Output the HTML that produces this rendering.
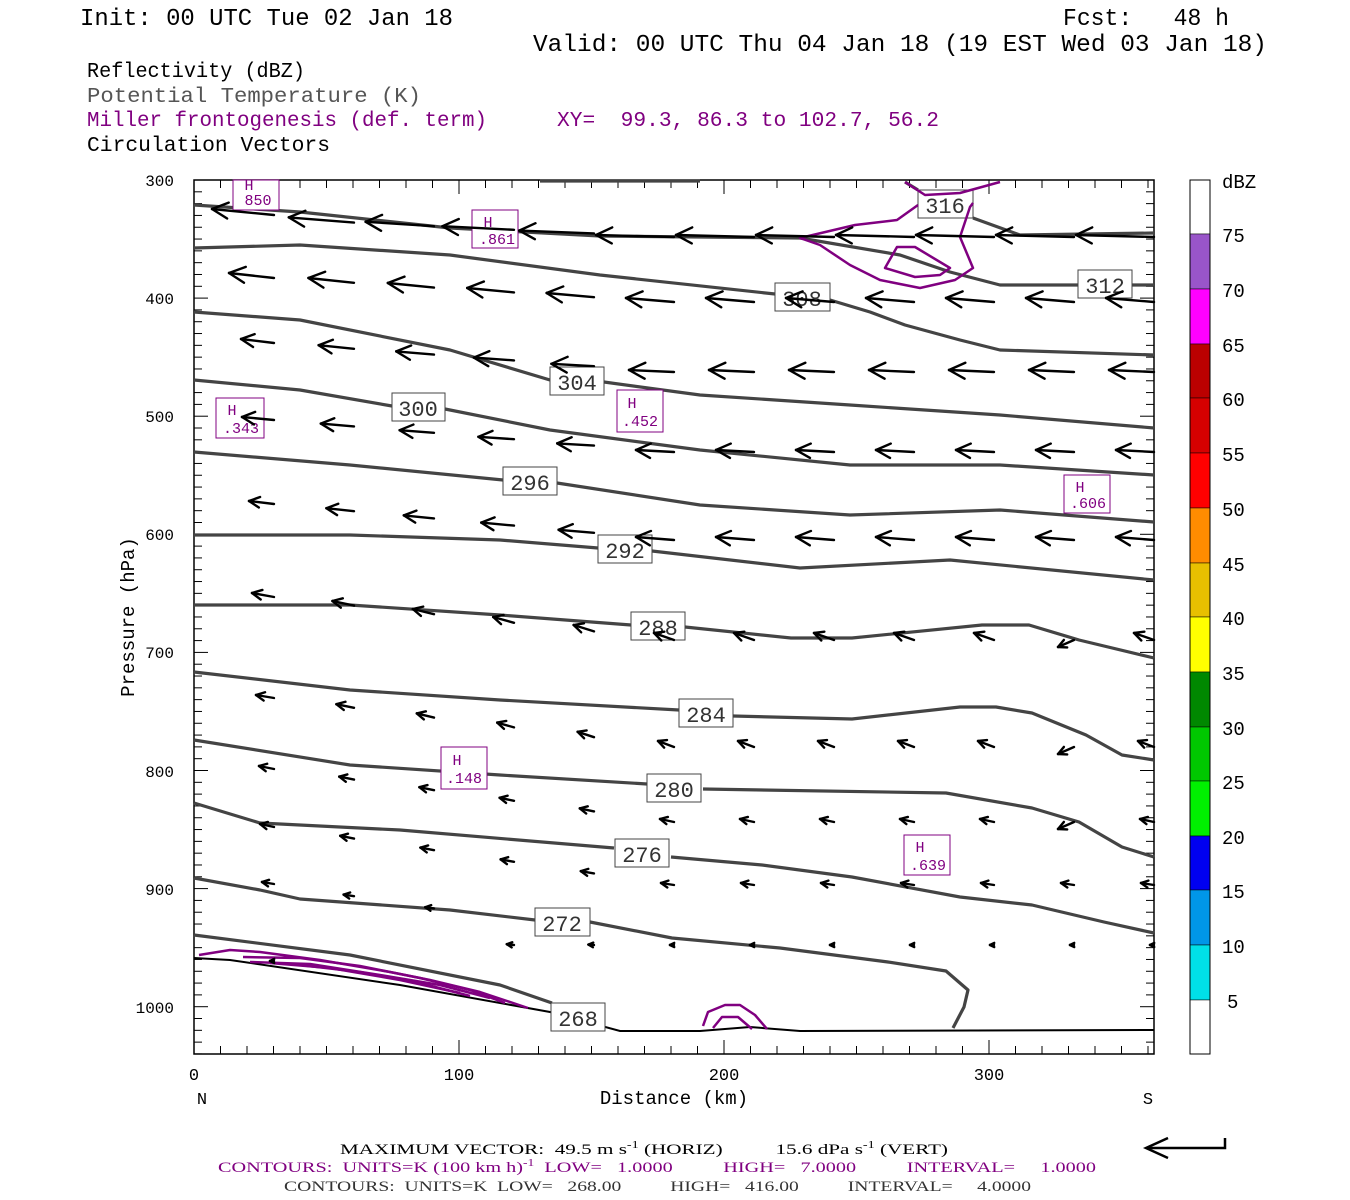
<!DOCTYPE html>
<html><head><meta charset="utf-8"><style>
body{margin:0;background:#fff;width:1350px;height:1200px;overflow:hidden}
svg{display:block}
text{font-family:"Liberation Mono",monospace;white-space:pre}
</style></head><body>
<svg id="s" width="1350" height="1200" viewBox="0 0 1350 1200" xmlns="http://www.w3.org/2000/svg" xml:space="preserve">
<g fill="#000">
<text x="80" y="25" font-size="24" textLength="373" lengthAdjust="spacingAndGlyphs">Init: 00 UTC Tue 02 Jan 18</text>
<text x="1063" y="25" font-size="24" textLength="166" lengthAdjust="spacingAndGlyphs">Fcst:   48 h</text>
<text x="533" y="51" font-size="24" textLength="734" lengthAdjust="spacingAndGlyphs">Valid: 00 UTC Thu 04 Jan 18 (19 EST Wed 03 Jan 18)</text>
<text x="87" y="77" font-size="21" textLength="218" lengthAdjust="spacingAndGlyphs">Reflectivity (dBZ)</text>
<text x="87" y="102" font-size="21" fill="#555" textLength="334" lengthAdjust="spacingAndGlyphs">Potential Temperature (K)</text>
<text x="87" y="126" font-size="21" fill="#800080" textLength="400" lengthAdjust="spacingAndGlyphs">Miller frontogenesis (def. term)</text>
<text x="557" y="126" font-size="21" fill="#800080" textLength="382" lengthAdjust="spacingAndGlyphs">XY=  99.3, 86.3 to 102.7, 56.2</text>
<text x="87" y="151" font-size="21" textLength="243" lengthAdjust="spacingAndGlyphs">Circulation Vectors</text>
</g>
<!-- colorbar -->
<g stroke="#000" stroke-width="0.5">
<rect x="1190" y="180" width="20" height="54" fill="#fff"/>
<rect x="1190" y="234" width="20" height="55" fill="#9955c9"/>
<rect x="1190" y="289" width="20" height="55" fill="#ff00ff"/>
<rect x="1190" y="344" width="20" height="54" fill="#bb0000"/>
<rect x="1190" y="398" width="20" height="55" fill="#d60000"/>
<rect x="1190" y="453" width="20" height="55" fill="#ff0000"/>
<rect x="1190" y="508" width="20" height="55" fill="#ff8c00"/>
<rect x="1190" y="563" width="20" height="54" fill="#e8c000"/>
<rect x="1190" y="617" width="20" height="55" fill="#ffff00"/>
<rect x="1190" y="672" width="20" height="55" fill="#008800"/>
<rect x="1190" y="727" width="20" height="54" fill="#00c800"/>
<rect x="1190" y="781" width="20" height="55" fill="#00f000"/>
<rect x="1190" y="836" width="20" height="54" fill="#0000f0"/>
<rect x="1190" y="890" width="20" height="55" fill="#0096e8"/>
<rect x="1190" y="945" width="20" height="55" fill="#00e0e8"/>
<rect x="1190" y="1000" width="20" height="54" fill="#fff"/>
</g>
<rect x="1190" y="180" width="20" height="874" fill="none" stroke="#000"/>
<g font-size="19" fill="#000">
<text x="1222" y="188">dBZ</text>
<text x="1222" y="242">75</text><text x="1222" y="297">70</text><text x="1222" y="352">65</text>
<text x="1222" y="406">60</text><text x="1222" y="461">55</text><text x="1222" y="516">50</text>
<text x="1222" y="571">45</text><text x="1222" y="625">40</text><text x="1222" y="680">35</text>
<text x="1222" y="735">30</text><text x="1222" y="789">25</text><text x="1222" y="844">20</text>
<text x="1222" y="898">15</text><text x="1222" y="953">10</text><text x="1227" y="1008">5</text>
</g>
<!-- axes -->
<g id="ticks" stroke="#000" stroke-width="1"></g>
<rect x="194" y="180" width="960" height="874" fill="none" stroke="#000" stroke-width="1.5"/>
<g font-size="16" fill="#000" text-anchor="end">
<text x="174" y="186">300</text><text x="174" y="304">400</text><text x="174" y="422">500</text>
<text x="174" y="540">600</text><text x="174" y="658">700</text><text x="174" y="777">800</text>
<text x="174" y="895">900</text><text x="174" y="1013">1000</text>
</g>
<g font-size="17" fill="#000" text-anchor="middle">
<text x="194" y="1080">0</text><text x="459" y="1080">100</text><text x="724" y="1080">200</text><text x="989" y="1080">300</text>
<text x="202" y="1104">N</text><text x="1148" y="1104">S</text>
<text x="674" y="1104" font-size="19">Distance (km)</text>
<text transform="translate(134,617) rotate(-90)" font-size="19">Pressure (hPa)</text>
</g>
<!-- contours -->
<g fill="none" stroke="#444" stroke-width="3.2" stroke-linejoin="round">
<polyline points="540,181 700,181"/>
<polyline points="905,182 918,190"/><polyline points="973,218 1020,235 1154,233"/>
<polyline points="194,205 300,212 450,228 600,236 800,238 900,255 950,272 1000,285 1078,285"/><polyline points="1132,285 1154,285"/>
<polyline points="194,248 300,245 450,255 600,275 775,294"/><polyline points="830,300 870,312 905,325 960,340 1000,350 1154,355"/>
<polyline points="194,312 300,320 450,350 550,380"/><polyline points="604,382 700,395 850,405 1000,415 1154,428"/>
<polyline points="194,380 300,390 392,406"/><polyline points="445,409 550,430 700,450 850,465 1000,465 1154,475"/>
<polyline points="194,452 350,465 503,480"/><polyline points="557,483 700,505 850,515 1000,510 1154,522"/>
<polyline points="194,535 350,535 500,540 598,548"/><polyline points="652,551 800,568 950,560 1154,580"/>
<polyline points="194,605 350,605 500,615 631,625"/><polyline points="685,627 791,638 852,638 982,625 1029,625 1079,640 1154,658"/>
<polyline points="194,672 350,690 500,700 679,710"/><polyline points="733,716 852,719 960,707 996,707 1032,713 1086,735 1122,755 1154,760"/>
<polyline points="194,740 350,765 500,775 647,784"/><polyline points="703,789 946,793 1032,808 1079,822 1122,847 1154,857"/>
<polyline points="194,803 260,823 400,830 614,848"/><polyline points="671,857 762,865 852,877 960,897 1032,905 1104,922 1154,933"/>
<polyline points="194,878 260,890 300,899 450,910 535,920"/><polyline points="590,922 672,938 780,948 888,962 946,971 968,990 964,1007 953,1028"/>
<polyline points="194,935 350,955 500,985 552,1003"/>
</g>
<polyline fill="none" stroke="#000" stroke-width="2" points="194,958 230,960 400,985 550,1012 620,1031 700,1031 750,1027 800,1031 1154,1030"/>
<!-- contour labels -->
<g font-size="22" fill="#333" text-anchor="middle">
<g fill="#fff" stroke="#444" stroke-width="1">
<rect x="918" y="190" width="55" height="28"/><rect x="775" y="283" width="55" height="28"/>
<rect x="1078" y="270" width="54" height="28"/><rect x="550" y="367" width="54" height="28"/>
<rect x="392" y="393" width="53" height="28"/><rect x="503" y="467" width="54" height="28"/>
<rect x="598" y="535" width="54" height="28"/><rect x="631" y="612" width="54" height="28"/>
<rect x="679" y="699" width="54" height="28"/><rect x="647" y="774" width="54" height="28"/>
<rect x="615" y="839" width="54" height="28"/><rect x="535" y="908" width="55" height="28"/>
<rect x="551" y="1003" width="54" height="28"/>
</g>
<text x="945" y="213">316</text><text x="802" y="306">308</text><text x="1105" y="293">312</text>
<text x="577" y="390">304</text><text x="418" y="416">300</text><text x="530" y="490">296</text>
<text x="625" y="558">292</text><text x="658" y="635">288</text><text x="706" y="722">284</text>
<text x="674" y="797">280</text><text x="642" y="862">276</text><text x="562" y="931">272</text>
<text x="578" y="1026">268</text>
</g>
<!-- purple -->
<g fill="none" stroke="#800080" stroke-width="2.5" stroke-linejoin="round">
<polyline points="918,205 897,220 855,225 800,238 820,245 850,265 880,280 920,288 955,280 973,268 960,237 970,207 973,203"/>
<polygon points="897,247 915,247 950,268 940,275 915,277 885,268"/>
<polyline points="905,182 925,195 960,193 1000,182"/>
<polyline points="199,955 230,950 260,952 320,960 390,972 430,980 480,992 528,1008"/>
<polyline points="243,957 300,958 360,966 420,978 470,990 505,1003"/>
<polyline points="250,962 310,964 380,975 440,985 490,998"/>
<polyline points="270,963 330,968 400,980 460,993"/>
<polyline points="300,965 360,972 420,983 470,996"/>
<polyline points="703,1026 708,1012 725,1005 740,1005 755,1015 767,1029"/>
<polyline points="713,1028 722,1017 738,1017 752,1029"/>
</g>
<g font-size="15" fill="#800080" text-anchor="middle">
<g fill="#fff" stroke="#800080" stroke-width="1">
<rect x="233" y="180" width="46" height="30"/><rect x="472" y="210" width="46" height="38"/>
<rect x="216" y="398" width="48" height="40"/><rect x="617" y="390" width="46" height="42"/>
<rect x="1064" y="475" width="46" height="38"/><rect x="441" y="747" width="46" height="42"/>
<rect x="904" y="835" width="46" height="40"/>
</g>
<text x="249" y="190">H</text><text x="258" y="205">850</text>
<text x="488" y="227">H</text><text x="497" y="244">.861</text>
<text x="232" y="415">H</text><text x="241" y="433">.343</text>
<text x="632" y="408">H</text><text x="640" y="426">.452</text>
<text x="1080" y="492">H</text><text x="1088" y="508">.606</text>
<text x="457" y="765">H</text><text x="464" y="783">.148</text>
<text x="920" y="852">H</text><text x="928" y="870">.639</text>
</g>
<g id="arrows" stroke="#000" stroke-width="2.4" fill="none" stroke-linecap="round"></g>
<!-- bottom text -->
<g font-size="15">
<text x="340" y="1154" textLength="608" lengthAdjust="spacingAndGlyphs" style="font-family:'Liberation Serif',serif">MAXIMUM VECTOR:  49.5 m s<tspan dy="-6" font-size="10">-1</tspan><tspan dy="6"> (HORIZ)          15.6 dPa s</tspan><tspan dy="-6" font-size="10">-1</tspan><tspan dy="6"> (VERT)</tspan></text>
<text x="218" y="1172" fill="#800080" textLength="878" lengthAdjust="spacingAndGlyphs" style="font-family:'Liberation Serif',serif">CONTOURS:  UNITS=K (100 km h)<tspan dy="-6" font-size="10">-1</tspan><tspan dy="6">  LOW=   1.0000          HIGH=   7.0000          INTERVAL=     1.0000</tspan></text>
<text x="284" y="1191" fill="#333" textLength="747" lengthAdjust="spacingAndGlyphs" style="font-family:'Liberation Serif',serif">CONTOURS:  UNITS=K  LOW=   268.00          HIGH=   416.00          INTERVAL=     4.0000</text>
</g>
<polyline points="1225,1138 1225,1148 1148,1148" fill="none" stroke="#000" stroke-width="2.5"/>
<polyline points="1168,1138 1146,1148 1168,1158" fill="none" stroke="#000" stroke-width="2.5"/>
</svg>
<script>
var ns="http://www.w3.org/2000/svg",t=document.getElementById("ticks"),a=document.getElementById("arrows");
function L(g,x1,y1,x2,y2){var l=document.createElementNS(ns,"line");l.setAttribute("x1",x1);l.setAttribute("y1",y1);l.setAttribute("x2",x2);l.setAttribute("y2",y2);g.appendChild(l);}
for(var k=0;k<=36;k++){var x=194+k*26.5,len=(k%10==0)?14:8;L(t,x,1054,x,1054-len);L(t,x,180,x,180+len);}
for(var p=300;p<=1040;p+=10){var y=180+(p-300)*1.181,len=(p%100==0)?14:8;L(t,194,y,194+len,y);L(t,1154,y,1154-len,y);}
function arr(x,y,dx,dy){var x2=x+dx,y2=y+dy;L(a,x,y,x2,y2);var len=Math.sqrt(dx*dx+dy*dy);if(len<3)return;var ux=dx/len,uy=dy/len,h=Math.min(16,len*0.3+3),w=h*0.5;
L(a,x2,y2,x2-ux*h-uy*w,y2-uy*h+ux*w);L(a,x2,y2,x2-ux*h+uy*w,y2-uy*h-ux*w);}
// rows: left y, right y, left dx, right dx, left dy, right dy
var rows=[[219,237,-62,-78,-6,-2],[278,302,-45,-48,-5,-4],[343,372,-33,-45,-4,-2],[420,452,-32,-38,-3,-2],[504,540,-25,-38,-3,-3],[597,640,-22,-20,-4,-7],[698,747,-18,-16,-3,-6],[769,822,-15,-14,-3,-3],[827,885,-14,-13,-3,-2],[884,945,-12,-4,-2,0],[961,961,-4,-2,0,0]];
rows.forEach(function(r,i){for(var k=0;k<12;k++){var x=274+80*k;var f=Math.min(1,Math.max(0,(x-274)/400));
var y=r[0]+(r[1]-r[0])*f,dx=r[2]+(r[3]-r[2])*f,dy=r[4]+(r[5]-r[4])*f;
if(i==10&&k>0)continue;
if(i==0&&k==0){y=215;}
if(i>=5&&i<=7&&k==10){dx=-16;dy=7;}
if(i==9&&k>=3){y=945;}
if(y>1025)continue;
arr(x,y,dx,dy);}});
</script>
</body></html>
